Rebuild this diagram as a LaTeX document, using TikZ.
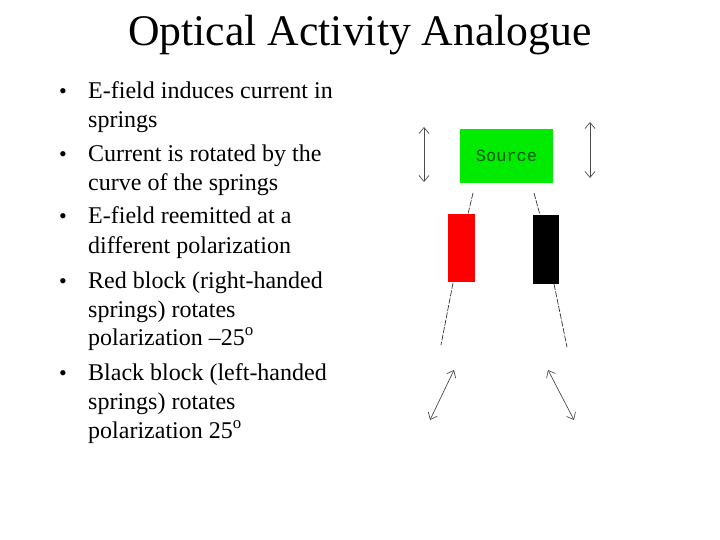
\documentclass[tikz,border=0pt]{standalone}
\usepackage{fontspec}
\setmainfont{Liberation Serif}
\newfontfamily\monof{Liberation Mono}
\usetikzlibrary{arrows.meta}
\begin{document}
\begin{tikzpicture}[x=1pt,y=-1pt,
  txt/.style={anchor=base west,inner sep=0pt,font=\fontsize{24}{26}\selectfont},
  bul/.style={anchor=base west,inner sep=0pt,font=\fontsize{22}{26}\selectfont},
  pol/.style={{Straight Barb[length=6pt,width=10pt]}-{Straight Barb[length=6pt,width=10pt]},draw=black!70,line width=0.7pt},
  ray/.style={draw=black!80,line width=0.7pt,dash pattern=on 6pt off 1.5pt}]
\useasboundingbox (0,0) rectangle (720,540);
\node[anchor=base,inner sep=0pt,font=\fontsize{43.7}{48}\selectfont] (title) at (360,46) {Optical Activity Analogue};
\foreach \y/\b/\t [count=\i] in {99/1/E-field induces current in,128/0/springs,162/1/Current is rotated by the,191/0/curve of the springs,224/1/E-field reemitted at a,253/0/different polarization,288/1/Red block (right-handed,317/0/springs) rotates,345/0/polarization –25\textsuperscript{o},380/1/Black block (left-handed,409/0/springs) rotates,438/0/polarization 25\textsuperscript{o}}{
  \node[txt] (t\i) at (88,\y) {\t};
  \ifnum\b=1 \node[bul] (b\i) at (59,\y) {•};\fi
}
\node[draw=none,fill={rgb,255:red,0;green,235;blue,0},minimum width=93pt,minimum height=54pt,inner sep=0pt,font=\monof\fontsize{17}{17}\selectfont,text={rgb,255:red,0;green,90;blue,0}] (src) at (506.5,156) {Source};
\node[fill=red,minimum width=27pt,minimum height=68pt,inner sep=0pt] (red) at (461.5,248) {};
\node[fill=black,minimum width=26pt,minimum height=69pt,inner sep=0pt] (blk) at (546,249.5) {};
\coordinate (r0) at (473,193); \coordinate (k0) at (534,193);
\coordinate (r1) at (441,345); \coordinate (k1) at (567,347);
\draw[ray] (r0) -- (468,214);
\draw[ray] (k0) -- (540,215);
\draw[ray] (453,283) -- (r1);
\draw[ray] (554,284) -- (k1);
\coordinate (a1) at (424,127); \coordinate (a2) at (424,182);
\coordinate (a3) at (590,122); \coordinate (a4) at (590,178);
\coordinate (a5) at (454,370); \coordinate (a6) at (430,420);
\coordinate (a7) at (548,370); \coordinate (a8) at (574,420);
\draw[pol] (a1) -- (a2);
\draw[pol] (a3) -- (a4);
\draw[pol] (a5) -- (a6);
\draw[pol] (a7) -- (a8);
\end{tikzpicture}
\end{document}
